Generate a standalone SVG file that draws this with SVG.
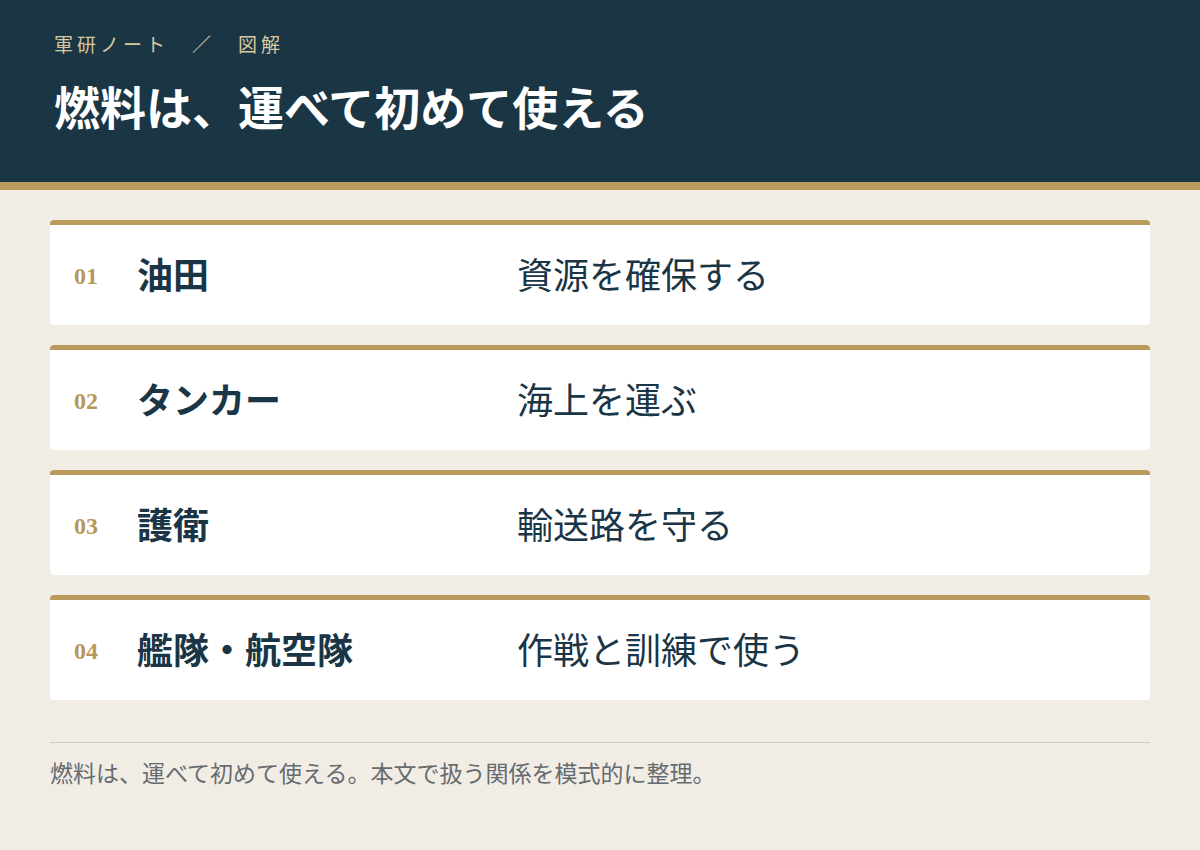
<svg xmlns="http://www.w3.org/2000/svg" width="1200" height="850" viewBox="0 0 1200 850">
<style>
.jp{font-family:"Noto Sans CJK JP","Noto Sans CJK SC",sans-serif}
.num{font-family:"Liberation Serif","DejaVu Serif",serif;font-size:24px;font-weight:700;fill:#b8975a}
.lbl{font-size:36px;font-weight:700;fill:#1a3545}
.desc{font-size:36px;font-weight:400;fill:#1a3545}
.card{fill:#ffffff}
.bar{fill:#bb9a5d}
</style>
<rect x="0" y="0" width="1200" height="850" fill="#f1ede5"/>
<g id="header">
<rect x="0" y="0" width="1200" height="182" fill="#1a3645"/>
<rect x="0" y="182" width="1200" height="8" fill="#bb9a5d"/>
<text x="54" y="52" class="jp" font-size="19" fill="#d9c9a0" letter-spacing="4">軍研ノート　／　図解</text>
<text x="54" y="125" class="jp" font-size="46" font-weight="700" fill="#ffffff">燃料は、運べて初めて使える</text>
</g>
<g id="card1">
<rect x="50" y="220" width="1100" height="105" rx="4" class="card"/>
<path d="M50,225 v-1 a4,4 0 0 1 4,-4 h1092 a4,4 0 0 1 4,4 v1 z" class="bar"/>
<text x="74" y="284" class="num">01</text>
<text x="137" y="289" class="jp lbl">油田</text>
<text x="517" y="289" class="jp desc">資源を確保する</text>
</g>
<g id="card2">
<rect x="50" y="345" width="1100" height="105" rx="4" class="card"/>
<path d="M50,350 v-1 a4,4 0 0 1 4,-4 h1092 a4,4 0 0 1 4,4 v1 z" class="bar"/>
<text x="74" y="409" class="num">02</text>
<text x="137" y="414" class="jp lbl">タンカー</text>
<text x="517" y="414" class="jp desc">海上を運ぶ</text>
</g>
<g id="card3">
<rect x="50" y="470" width="1100" height="105" rx="4" class="card"/>
<path d="M50,475 v-1 a4,4 0 0 1 4,-4 h1092 a4,4 0 0 1 4,4 v1 z" class="bar"/>
<text x="74" y="534" class="num">03</text>
<text x="137" y="539" class="jp lbl">護衛</text>
<text x="517" y="539" class="jp desc">輸送路を守る</text>
</g>
<g id="card4">
<rect x="50" y="595" width="1100" height="105" rx="4" class="card"/>
<path d="M50,600 v-1 a4,4 0 0 1 4,-4 h1092 a4,4 0 0 1 4,4 v1 z" class="bar"/>
<text x="74" y="659" class="num">04</text>
<text x="137" y="664" class="jp lbl">艦隊・航空隊</text>
<text x="517" y="664" class="jp desc">作戦と訓練で使う</text>
</g>
<g id="connectors"></g>
<g id="footer">
<rect x="50" y="742" width="1100" height="1" fill="#cfcbc3"/>
<text x="50" y="782" class="jp" font-size="23" fill="#666b70">燃料は、運べて初めて使える。本文で扱う関係を模式的に整理。</text>
</g>
</svg>
